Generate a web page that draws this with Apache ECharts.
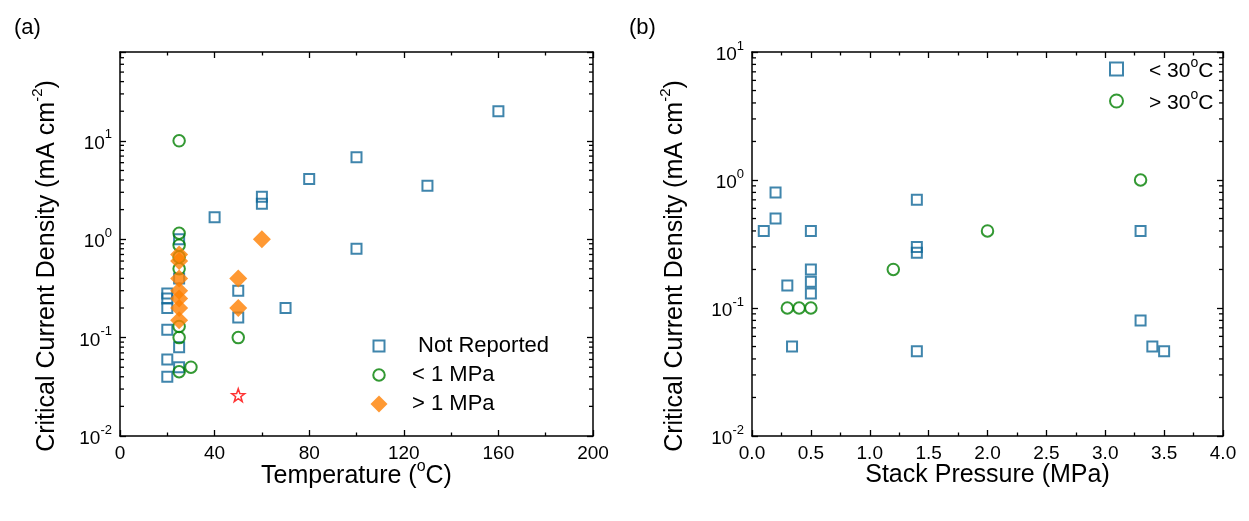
<!DOCTYPE html>
<html>
<head>
<meta charset="utf-8">
<script src="https://cdn.jsdelivr.net/npm/echarts@6/dist/echarts.min.js"></script>
<style>
  html, body { margin: 0; padding: 0; background: #fff; }
  #chart { width: 1249px; height: 521px; }
</style>
</head>
<body>
<div id="chart"></div>
<script>
// ---- Panel (a): critical current density vs temperature ----
const tempNotReported = [20, 20, 20, 20, 20, 20, 25, 25, 25, 25, 40, 50, 50, 60, 60, 70, 80, 100, 100, 130, 160];
const jcNotReported   = [0.28, 0.25, 0.2, 0.12, 0.06, 0.04, 1.0, 0.4, 0.08, 0.05, 1.67, 0.3, 0.16, 2.7, 2.3, 0.2, 4.1, 6.8, 0.8, 3.5, 20];

const tempLowPressure = [25, 25, 25, 25, 25, 25, 25, 25, 30, 50];
const jcLowPressure   = [10, 1.15, 0.87, 0.66, 0.5, 0.13, 0.1, 0.045, 0.05, 0.1];

const tempHighPressure = [25, 25, 25, 25, 25, 25, 25, 50, 50, 60];
const jcHighPressure   = [0.7, 0.6, 0.4, 0.3, 0.25, 0.2, 0.15, 0.4, 0.2, 1.0];

const tempStar = [50];
const jcStar   = [0.026];

// ---- Panel (b): critical current density vs stack pressure ----
const pressureBelow30 = [0.1, 0.2, 0.2, 0.3, 0.34, 0.5, 0.5, 0.5, 0.5, 1.4, 1.4, 1.4, 1.4, 3.3, 3.3, 3.4, 3.5];
const jcBelow30       = [0.4, 0.8, 0.5, 0.15, 0.05, 0.4, 0.2, 0.16, 0.13, 0.7, 0.3, 0.27, 0.046, 0.4, 0.08, 0.05, 0.046];

const pressureAbove30 = [0.3, 0.4, 0.5, 1.2, 2.0, 3.3];
const jcAbove30       = [0.1, 0.1, 0.1, 0.2, 0.4, 1.0];

// ---- Axis ranges and labels ----
const tempAxis = { min: 0, max: 200, interval: 40 };
const pressureAxis = { min: 0, max: 4, interval: 0.5 };
const jcRangeA = { min: 0.01, max: 80 };
const jcRangeB = { min: 0.01, max: 10 };
const yTitle = '{b|Critical Current Density (mA cm}{s|-2}{b|)}';
const xTitleA = '{b|Temperature (}{s|o}{b|C)}';
const xTitleB = 'Stack Pressure (MPa)';
const legendA = ['Not Reported', '< 1 MPa', '> 1 MPa'];
const legendB = ['< 30°C', '> 30°C'];

const FONT = '"Liberation Sans", Arial, sans-serif';
const BLUE = '#0f6797';
const GREEN = '#008000';
const ORANGE = '#ff8000';
const RED = '#ff0000';
const INK = '#000';

const zip = (xs, ys) => xs.map((x, i) => [x, ys[i]]);

// log-axis minor tick values (2..9 per decade) inside a range
function minorLogValues(lo, hi) {
  const out = [];
  for (let e = Math.floor(Math.log10(lo)); e <= Math.ceil(Math.log10(hi)); e++) {
    for (let m = 2; m <= 9; m++) {
      const v = m * Math.pow(10, e);
      if (v > lo && v < hi) out.push(v);
    }
  }
  return out;
}

const labelRich = {
  b: { fontFamily: FONT, fontSize: 19, color: INK, lineHeight: 25, verticalAlign: 'bottom' },
  s: { fontFamily: FONT, fontSize: 13, color: INK, lineHeight: 13, verticalAlign: 'top' }
};
const yTitleRich = {
  b: { fontFamily: FONT, fontSize: 25, color: INK, lineHeight: 30, verticalAlign: 'bottom' },
  s: { fontFamily: FONT, fontSize: 15, color: INK, lineHeight: 15, verticalAlign: 'top' }
};
const xTitleRich = {
  b: { fontFamily: FONT, fontSize: 25, color: INK, lineHeight: 30, verticalAlign: 'bottom' },
  s: { fontFamily: FONT, fontSize: 16, color: INK, lineHeight: 16, verticalAlign: 'top' }
};
const legendRich = {
  b: { fontFamily: FONT, fontSize: 21, color: INK, lineHeight: 26, verticalAlign: 'bottom' },
  s: { fontFamily: FONT, fontSize: 14, color: INK, lineHeight: 14, verticalAlign: 'top' }
};

function decadeLabel(v) {
  const l = Math.log10(v);
  const e = Math.round(l);
  if (Math.abs(l - e) > 1e-6) return '';
  return '{b|10}{s|' + e + '}';
}

const axisLine = { show: true, onZero: false, lineStyle: { color: INK, width: 1.5 } };

function xAxes(gridIndex, range, fmt, name, nameGap) {
  const base = {
    type: 'value', gridIndex, min: range.min, max: range.max, interval: range.interval,
    axisLine, splitLine: { show: false },
    axisTick: { show: true, inside: true, length: 6, lineStyle: { color: INK, width: 1.3 } },
    minorTick: { show: true, splitNumber: 2, length: 3.5, lineStyle: { color: INK, width: 1.3 } }
  };
  return [
    Object.assign({}, base, {
      position: 'bottom',
      name, nameLocation: 'middle', nameGap, nameMoveOverlap: false,
      nameTextStyle: { fontFamily: FONT, fontSize: 25, color: INK, rich: xTitleRich },
      axisLabel: { show: true, margin: 8, fontFamily: FONT, fontSize: 19, color: INK, formatter: fmt }
    }),
    Object.assign({}, base, { position: 'top', axisLabel: { show: false } })
  ];
}

function yAxes(gridIndex, range, nameGap) {
  const base = {
    type: 'log', logBase: 10, gridIndex, min: range.min, max: range.max,
    axisLine, splitLine: { show: false },
    axisTick: { show: true, inside: true, length: 6, lineStyle: { color: INK, width: 1.3 } }
  };
  return [
    Object.assign({}, base, {
      position: 'left',
      name: yTitle, nameLocation: 'middle', nameRotate: 90, nameGap, nameMoveOverlap: false,
      nameTextStyle: { fontFamily: FONT, fontSize: 25, color: INK, rich: yTitleRich, padding: [0, 44, 0, 0] },
      axisLabel: { show: true, margin: 8, formatter: decadeLabel, rich: labelRich }
    }),
    Object.assign({}, base, { position: 'right', axisLabel: { show: false } })
  ];
}

// short inward ticks on both vertical frame edges at the log minor values
function minorTickSeries(xAxisIndex, yAxisIndex, xRef, values) {
  return {
    type: 'custom', xAxisIndex, yAxisIndex, silent: true, clip: false, z: 5,
    data: values.map(v => [xRef, v]),
    encode: { x: 0, y: 1 },
    renderItem(params, api) {
      const cs = params.coordSys;
      const y = api.coord([xRef, api.value(1)])[1];
      const st = { stroke: INK, lineWidth: 1.3 };
      return {
        type: 'group',
        children: [
          { type: 'line', shape: { x1: cs.x, y1: y, x2: cs.x + 4, y2: y }, style: st },
          { type: 'line', shape: { x1: cs.x + cs.width, y1: y, x2: cs.x + cs.width - 4, y2: y }, style: st }
        ]
      };
    }
  };
}

const hollow = (color) => ({ color: 'rgba(0,0,0,0)', borderColor: color, borderWidth: 2 });
const starPath = 'path://M50 0L61.76 33.82L97.55 34.55L69.02 56.18L79.39 90.45L50 70L20.61 90.45L30.98 56.18L2.45 34.55L38.24 33.82Z';
// legend glyphs inside a 17px box, so the open square and circle stay smaller than the diamond
const legendSquare = 'path://M0 0M17 17M3 3H14V14H3Z';
const legendCircle = 'path://M0 0M17 17M2.75 8.5A5.75 5.75 0 1 1 14.25 8.5A5.75 5.75 0 1 1 2.75 8.5Z';
const legendDiamond = 'path://M8.5 0L17 8.5L8.5 17L0 8.5Z';

const option = {
  backgroundColor: '#fff',
  animation: false,
  title: [
    { text: '(a)', left: 9, top: 12, textStyle: { fontFamily: FONT, fontSize: 22, fontWeight: 'normal', color: INK } },
    { text: '(b)', left: 624, top: 12, textStyle: { fontFamily: FONT, fontSize: 22, fontWeight: 'normal', color: INK } }
  ],
  grid: [
    { left: 120, top: 52, width: 473, height: 384 },
    { left: 752, top: 52, width: 471, height: 384 }
  ],
  xAxis: [
    ...xAxes(0, tempAxis, v => String(v), xTitleA, 23),
    ...xAxes(1, pressureAxis, v => v.toFixed(1), xTitleB, 27)
  ],
  yAxis: [
    ...yAxes(0, jcRangeA, 60),
    ...yAxes(1, jcRangeB, 64)
  ],
  legend: [
    {
      data: [
        { name: legendA[0], icon: legendSquare },
        { name: legendA[1], icon: legendCircle },
        { name: legendA[2], icon: legendDiamond }
      ],
      orient: 'vertical', left: 369.5, top: 335,
      itemWidth: 17, itemHeight: 17, itemGap: 7, padding: 0,
      textStyle: { fontFamily: FONT, fontSize: 22, color: INK, padding: [0, 0, 0, 19.5] },
      formatter: n => (n === 'Not Reported' ? ' ' + n : n)
    },
    {
      data: legendB, orient: 'vertical', left: 1109, top: 56,
      itemWidth: 13, itemHeight: 13, itemGap: 6, padding: 0,
      textStyle: { fontFamily: FONT, fontSize: 21, color: INK, rich: legendRich, padding: [0, 0, 0, 21] },
      formatter: n => '{b|' + n.replace('°C', '') + '}{s|o}{b|C}'
    }
  ],
  series: [
    minorTickSeries(0, 0, 100, minorLogValues(jcRangeA.min, jcRangeA.max)),
    minorTickSeries(2, 2, 2, minorLogValues(jcRangeB.min, jcRangeB.max)),
    {
      name: 'Not Reported', type: 'scatter', xAxisIndex: 0, yAxisIndex: 0,
      symbol: 'rect', symbolSize: 10, itemStyle: hollow(BLUE), z: 2,
      data: zip(tempNotReported, jcNotReported)
    },
    {
      name: '< 1 MPa', type: 'scatter', xAxisIndex: 0, yAxisIndex: 0,
      symbol: 'circle', symbolSize: 11.5, itemStyle: hollow(GREEN), z: 3,
      data: zip(tempLowPressure, jcLowPressure)
    },
    {
      name: '> 1 MPa', type: 'scatter', xAxisIndex: 0, yAxisIndex: 0,
      symbol: 'diamond', symbolSize: 18, itemStyle: { color: ORANGE }, z: 4,
      data: zip(tempHighPressure, jcHighPressure)
    },
    {
      name: 'star', type: 'scatter', xAxisIndex: 0, yAxisIndex: 0,
      symbol: starPath, symbolSize: 13, itemStyle: { color: 'rgba(0,0,0,0)', borderColor: RED, borderWidth: 1.5 }, z: 4,
      data: zip(tempStar, jcStar)
    },
    {
      name: '< 30°C', type: 'scatter', xAxisIndex: 2, yAxisIndex: 2,
      symbol: 'rect', symbolSize: 10, itemStyle: hollow(BLUE), z: 2,
      data: zip(pressureBelow30, jcBelow30)
    },
    {
      name: '> 30°C', type: 'scatter', xAxisIndex: 2, yAxisIndex: 2,
      symbol: 'circle', symbolSize: 11.5, itemStyle: hollow(GREEN), z: 3,
      data: zip(pressureAbove30, jcAbove30)
    }
  ]
};

const chart = echarts.init(document.getElementById('chart'), null, { renderer: 'canvas' });
chart.setOption(option);
</script>
</body>
</html>
